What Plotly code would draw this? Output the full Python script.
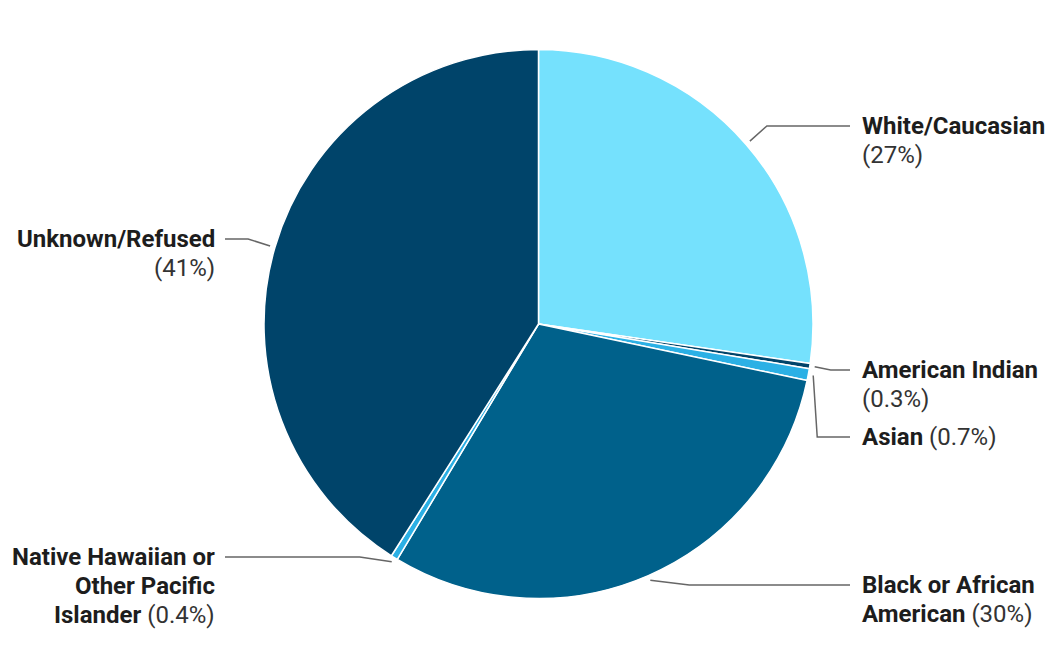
import math
import plotly.graph_objects as go

# Datos
categorias = ['White/Caucasian', 'American Indian', 'Asian', 'Black or African American',
              'Native Hawaiian or Other Pacific Islander', 'Unknown/Refused']
valores = [27.3, 0.3, 0.7, 30.3, 0.4, 41.0]
colores = ['#75E1FD', '#00446A', '#2BB0E5', '#00618B', '#2BB0E5', '#00446A']

# Texto de etiquetas (líneas en negrita) por categoría
etiquetas = [
    ['White/Caucasian'],
    ['American Indian'],
    ['Asian'],
    ['Black or African', 'American'],
    ['Native Hawaiian or', 'Other Pacific', 'Islander'],
    ['Unknown/Refused'],
]
# Porcentaje en la misma línea que el último texto en negrita?
pct_en_linea = [False, False, True, True, True, False]

# Disposición de etiquetas (píxeles de la ventana)
W, H = 1062, 672
OFF = 8  # margen por defecto del <body>
M = dict(l=264 - OFF, r=249 + OFF, t=49 - OFF, b=73 + OFF)
lado = ['r', 'r', 'r', 'r', 'l', 'l']
label_y = [126, 370, 437, 585, 557, 239]
elbow_dx = [17, 16, 4, 39, -32, -22]
LINE_H = 29

pw = W - M['l'] - M['r']
ph = H - M['t'] - M['b']
cx = OFF + M['l'] + pw / 2
cy = OFF + M['t'] + ph / 2
R = min(pw, ph) / 2


def px(x):
    return (x - OFF - M['l']) / pw


def py(y):
    return 1 - (y - OFF - M['t']) / ph


def fmt_pct(v):
    return f'({v:.1f}%)' if v < 1 else f'({v:.0f}%)'


fig = go.Figure(go.Pie(
    labels=categorias,
    values=valores,
    sort=False,
    direction='clockwise',
    rotation=0,
    marker=dict(colors=colores, line=dict(color='white', width=1.5)),
    textinfo='none',
    hoverinfo='label+percent',
    showlegend=False,
))

total = sum(valores)
acum = 0
shapes = []
annotations = []
for i, v in enumerate(valores):
    mid = (acum + v / 2) / total * 2 * math.pi
    acum += v
    sx = cx + (R + 5) * math.sin(mid)
    sy = cy - (R + 5) * math.cos(mid)
    ex = sx + elbow_dx[i]
    ey = label_y[i]
    tx = 850 if lado[i] == 'r' else 225
    path = f'M {px(sx)},{py(sy)} L {px(ex)},{py(ey)} L {px(tx)},{py(ey)}'
    shapes.append(dict(type='path', path=path, xref='paper', yref='paper',
                       line=dict(color='#666666', width=1.5)))

    lineas = [f'<b>{t}</b>' for t in etiquetas[i]]
    if pct_en_linea[i]:
        lineas[-1] += f' <span style="font-weight:normal;fill:#333333">{fmt_pct(v)}</span>'
    else:
        lineas.append(f'<span style="fill:#333333">{fmt_pct(v)}</span>')
    ax = 860 if lado[i] == 'r' else 217
    for j, texto in enumerate(lineas):
        annotations.append(dict(
            x=px(ax), y=py(label_y[i] + j * LINE_H), xref='paper', yref='paper',
            text=texto, showarrow=False,
            xanchor='left' if lado[i] == 'r' else 'right', yanchor='middle',
            font=dict(family='Roboto', size=24, color='#1d1d1d'),
        ))

fig.update_layout(
    width=W, height=H,
    margin=M,
    paper_bgcolor='white',
    plot_bgcolor='white',
    shapes=shapes,
    annotations=annotations,
    font=dict(family='Roboto', color='#1d1d1d'),
)

fig.write_html('out.html')
